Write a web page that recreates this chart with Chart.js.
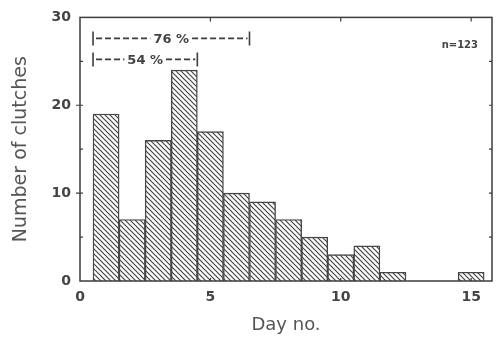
<!DOCTYPE html>
<html><head><meta charset="utf-8">
<script src="https://cdn.jsdelivr.net/npm/chart.js@4/dist/chart.umd.min.js"></script>
<style>html,body{margin:0;padding:0;background:#fff}#wrap{width:498px;height:350px;position:relative}</style>
</head><body><div id="wrap"><canvas id="c"></canvas></div>
<script>
// ---- data ----
const days = [1,2,3,4,5,6,7,8,9,10,11,12,13,14,15];
const clutches = [19,7,16,24,17,10,9,7,5,3,4,1,0,0,1];
const xTickValues = [0,5,10,15];
const yTickValues = [0,10,20,30];
const xMinorTicks = [5,10,15];
const yMinorTicks = [5,10,15,20,25];
const bracketLabels = ['76 %','54 %'];
const bracketStart = [0.5,0.5];
const bracketEnd = [6.5,4.5];
const sampleNote = 'n=123';
const xTitle = 'Day no.';
const yTitle = 'Number of clutches';

const INK = '#3d3d3d';
const TEXT = '#444';

function hatchPattern(){
  const s = 5;
  const c = document.createElement('canvas');
  c.width = s; c.height = s;
  const g = c.getContext('2d');
  g.fillStyle = '#fff'; g.fillRect(0,0,s,s);
  g.strokeStyle = '#454545'; g.lineWidth = 1.2;
  g.beginPath();
  g.moveTo(-1,-1); g.lineTo(s+1,s+1);
  g.moveTo(s-1,-1); g.lineTo(s+1,1);
  g.moveTo(-1,s-1); g.lineTo(1,s+1);
  g.stroke();
  return document.createElement('canvas').getContext('2d').createPattern(c,'repeat');
}

const extras = {
  id:'extras',
  afterDatasetsDraw(chart){
    const {ctx, chartArea:a, scales:{x,y}} = chart;
    ctx.save();
    // frame
    ctx.strokeStyle = INK; ctx.lineWidth = 1.5;
    ctx.strokeRect(a.left, a.top, a.right-a.left, a.bottom-a.top);
    // inward ticks
    ctx.lineWidth = 1.2;
    ctx.beginPath();
    yMinorTicks.forEach(v=>{
      const py = y.getPixelForValue(v);
      const major = v % 10 === 0;
      ctx.moveTo(a.left-(major?4:0), py); ctx.lineTo(a.left+3, py);
      ctx.moveTo(a.right-3, py); ctx.lineTo(a.right, py);
    });
    xMinorTicks.forEach(v=>{
      const px = x.getPixelForValue(v);
      ctx.moveTo(px, a.top); ctx.lineTo(px, a.top+4);
      ctx.moveTo(px, a.bottom); ctx.lineTo(px, a.bottom-3);
    });
    ctx.stroke();
    // brackets
    ctx.font = 'bold 13px "DejaVu Sans", sans-serif';
    ctx.textAlign = 'center'; ctx.textBaseline = 'middle';
    bracketLabels.forEach((lab,i)=>{
      const cy = a.top + 21 + i*21;
      const x0 = x.getPixelForValue(bracketStart[i]);
      const x1 = x.getPixelForValue(bracketEnd[i]);
      const cx = (x0+x1)/2;
      const w = ctx.measureText(lab).width;
      ctx.strokeStyle = INK; ctx.lineWidth = 1.6; ctx.setLineDash([]);
      ctx.beginPath();
      ctx.moveTo(x0, cy-7); ctx.lineTo(x0, cy+7);
      ctx.moveTo(x1, cy-7); ctx.lineTo(x1, cy+7);
      ctx.stroke();
      ctx.lineWidth = 1.8;
      ctx.setLineDash([6,3]);
      ctx.beginPath();
      ctx.moveTo(x0+3, cy); ctx.lineTo(cx-w/2-3, cy);
      ctx.moveTo(cx+w/2+3, cy); ctx.lineTo(x1-2, cy);
      ctx.stroke();
      ctx.setLineDash([]);
      ctx.fillStyle = TEXT;
      ctx.fillText(lab, cx, cy+1);
    });
    // sample size
    ctx.font = 'bold 10px "DejaVu Sans", sans-serif';
    ctx.textAlign = 'right';
    ctx.fillText(sampleNote, a.right-14, a.top+28);
    ctx.restore();
  }
};

new Chart(document.getElementById('c'), {
  type:'bar',
  data:{ datasets:[{
    data: days.map((d,i)=>({x:d, y:clutches[i]})),
    backgroundColor: hatchPattern(),
    borderColor: '#454545',
    borderWidth: 1.4,
    borderSkipped: 'start',
    barPercentage: 1,
    categoryPercentage: 1
  }]},
  options:{
    responsive:true, maintainAspectRatio:false, animation:false,
    layout:{padding:{left:0,right:6,top:16,bottom:0}},
    plugins:{legend:{display:false}, tooltip:{enabled:false}},
    scales:{
      x:{
        type:'linear', min:0, max:15.8, offset:false,
        afterBuildTicks(s){ s.ticks = xTickValues.map(v=>({value:v})); },
        afterFit(s){ s.height = 69; },
        grid:{display:false, drawTicks:false, offset:false},
        border:{display:false},
        ticks:{padding:8, color:TEXT, font:{family:'"DejaVu Sans", sans-serif', size:14, weight:'bold'}},
        title:{display:true, text:xTitle, color:'#555', padding:{top:0,bottom:14},
               font:{family:'"DejaVu Sans", sans-serif', size:18}}
      },
      y:{
        min:0, max:30,
        afterBuildTicks(s){ s.ticks = yTickValues.map(v=>({value:v})); },
        afterFit(s){ s.width = 80; },
        grid:{display:false, drawTicks:false},
        border:{display:false},
        ticks:{padding:9, color:TEXT, font:{family:'"DejaVu Sans", sans-serif', size:14, weight:'bold'}},
        title:{display:true, text:yTitle, color:'#555', padding:{top:10,bottom:0},
               font:{family:'"DejaVu Sans", sans-serif', size:19}}
      }
    }
  },
  plugins:[extras]
});
</script></body></html>
